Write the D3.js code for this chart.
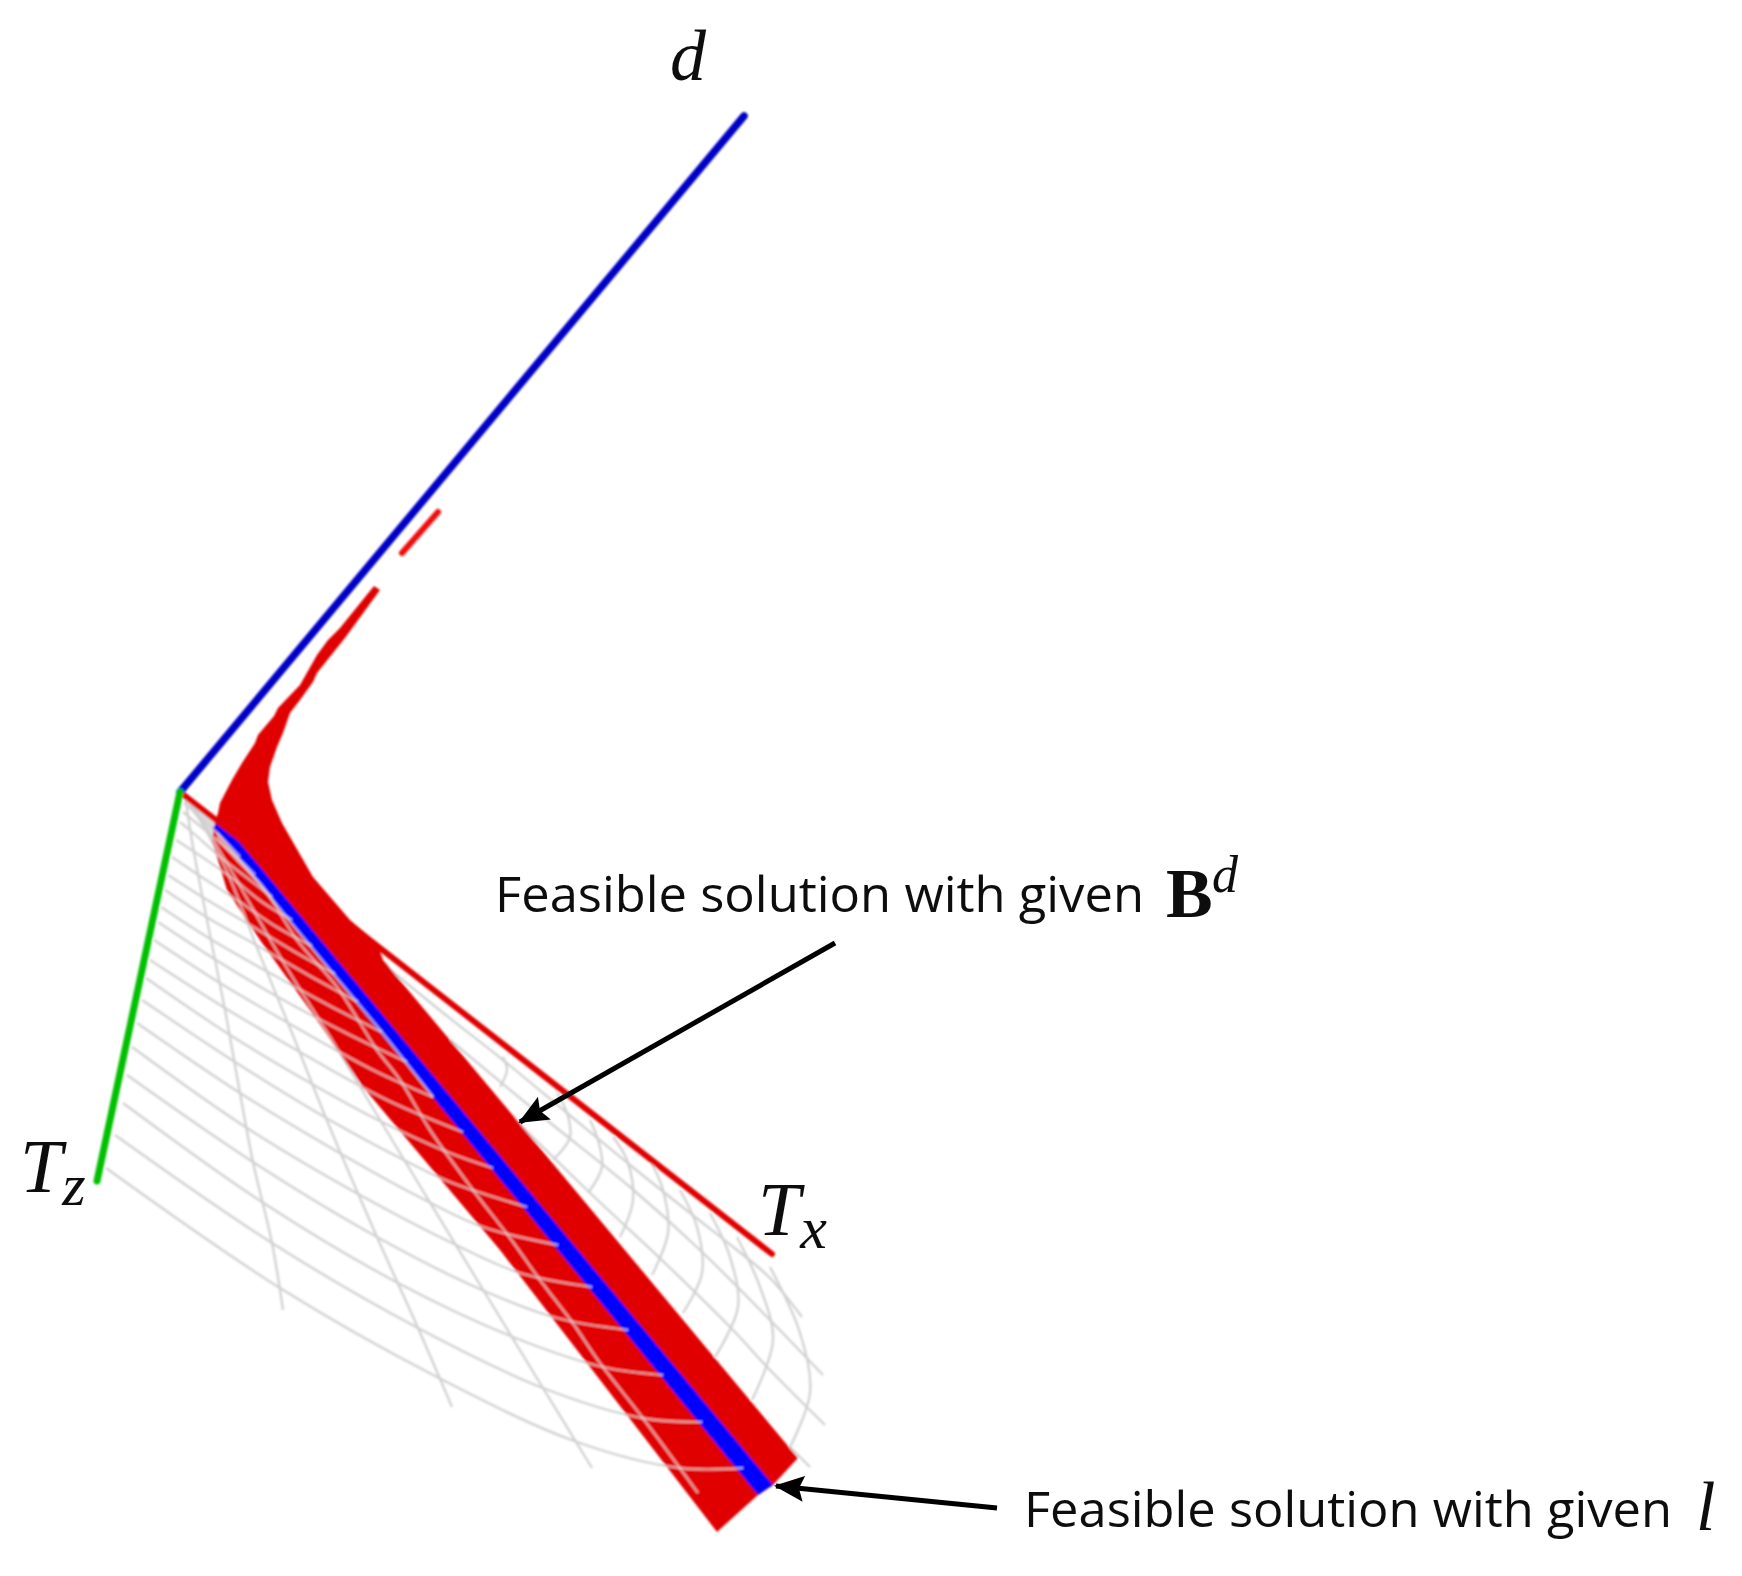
<!DOCTYPE html>
<html>
<head>
<meta charset="utf-8">
<title>Feasible solutions</title>
<script src="https://cdn.jsdelivr.net/npm/d3@7"></script>
<style>
  html, body { margin: 0; padding: 0; background: #fff; }
  svg { display: block; }
</style>
</head>
<body>
<div id="chart"></div>
<script>
// All values are [x, y], in picture units
var axisD = [[180, 792], [744, 116]];
var axisTz = [[180, 792], [97, 1181]];
var axisTx = [[180, 792], [772, 1254]];
var redDashA = [[402, 553], [438, 512]];

var redBand = [[218, 813], [220, 803], [232, 780], [242, 763], [255, 743], [258, 735], [274, 716], [278, 708],
  [300, 685], [317, 655], [328, 640], [340, 628], [374, 586], [380, 590], [345, 638], [317, 673], [313, 682],
  [300, 700], [290, 713], [283, 733], [277, 747], [270, 767], [268, 782], [272, 800], [282, 823], [290, 837],
  [313, 877], [350, 920], [377, 943], [383, 960], [500, 1100], [798, 1458], [773, 1485], [758, 1495], [717, 1532],
  [500, 1250], [363, 1087], [310, 1010], [260, 940], [227, 890], [212, 840], [215, 822]];
var blueBand = [[213, 828], [220, 819], [773, 1485], [758, 1495]];
var greyWedge = [[183, 795], [215, 822], [212, 837], [193, 813]];

// lines leaving the Tz axis and running to the blue band
var tzLines = [
  [[106, 1168], [280, 1288], [437, 1377], [577, 1442], [680, 1468], [743, 1468]],
  [[115, 1135], [272, 1243], [418, 1328], [543, 1388], [642, 1418], [702, 1422]],
  [[123, 1103], [262, 1202], [398, 1283], [513, 1337], [603, 1367], [663, 1375]],
  [[127, 1075], [253, 1162], [377, 1237], [482, 1290], [557, 1318], [628, 1330]],
  [[132, 1047], [247, 1128], [360, 1195], [452, 1243], [520, 1273], [592, 1287]],
  [[137, 1023], [240, 1093], [343, 1155], [425, 1200], [483, 1227], [558, 1245]],
  [[142, 1000], [235, 1062], [328, 1119], [400, 1158], [450, 1182], [527, 1207]],
  [[146, 978], [230, 1035], [312, 1084], [378, 1120], [450, 1153], [493, 1168]],
  [[150, 960], [225, 1008], [300, 1052], [387, 1100], [463, 1132]],
  [[154, 940], [220, 983], [290, 1024], [373, 1070], [433, 1097]],
  [[158, 922], [216, 960], [278, 997], [350, 1035], [407, 1062]],
  [[161, 907], [212, 940], [268, 972], [330, 1006], [382, 1032]],
  [[165, 890], [208, 918], [258, 946], [310, 976], [358, 1002]],
  [[168, 875], [204, 898], [250, 925], [295, 952], [335, 974]],
  [[172, 857], [200, 876], [240, 902], [275, 926], [312, 946]],
  [[176, 840], [196, 853], [232, 878], [262, 902], [292, 920]],
  [[180, 822], [192, 832], [224, 860], [250, 880], [272, 897]],
  [[183, 812], [212, 836], [240, 860], [255, 875]],
  [[184, 803], [212, 828], [240, 857]]
];

// lines fanning out from the origin
var fanLines = [
  [[185, 795], [193, 847], [207, 920], [225, 1010], [240, 1093], [253, 1162], [272, 1243], [283, 1310]],
  [[188, 800], [224, 865], [258, 950], [290, 1028], [328, 1123], [377, 1237], [418, 1328], [452, 1407]],
  [[190, 800], [232, 872], [282, 960], [335, 1045], [400, 1153], [482, 1288], [543, 1388], [592, 1468]],
  [[217, 837], [237, 860], [263, 887], [297, 940], [337, 987], [377, 1050], [400, 1080], [430, 1130], [473, 1190],
    [510, 1238], [540, 1280], [572, 1322], [600, 1363], [642, 1417], [698, 1493]],
  [[217, 833], [270, 897], [330, 970], [380, 1030], [433, 1097]]
];

// lines running along Tx on the far side of the band
var txLines = [
  [[387, 967], [442, 1012], [503, 1060], [567, 1113], [630, 1165], [690, 1213], [737, 1250], [770, 1278], [802, 1317]],
  [[450, 1040], [543, 1117], [630, 1187], [700, 1250], [770, 1320], [823, 1375]],
  [[500, 1105], [587, 1190], [667, 1265], [733, 1330], [770, 1370], [825, 1425]],
  [[790, 1447], [810, 1467]]
];

// arcs leaving the band and bending up towards Tx
var arcLines = [
  [[500, 1087], [507, 1070], [503, 1057]],
  [[553, 1160], [570, 1137], [567, 1113], [557, 1093]],
  [[588, 1193], [602, 1167], [598, 1140], [590, 1120]],
  [[620, 1237], [633, 1200], [627, 1160], [613, 1137]],
  [[652, 1275], [668, 1233], [663, 1190], [650, 1160]],
  [[683, 1313], [702, 1273], [697, 1227], [680, 1190]],
  [[715, 1357], [738, 1307], [730, 1257], [710, 1213]],
  [[752, 1400], [773, 1340], [760, 1287], [737, 1237]],
  [[790, 1447], [810, 1393], [800, 1333], [770, 1267]]
];

var arrowBd = [[835, 943], [520, 1122]];
var arrowL = [[997, 1508], [776, 1486]];

var width = 1742, height = 1576;

var x = d3.scaleLinear().domain([0, 1742]).range([0, width]);
var y = d3.scaleLinear().domain([0, 1576]).range([0, height]);

var curved = d3.line()
  .x(function(d) { return x(d[0]); })
  .y(function(d) { return y(d[1]); })
  .curve(d3.curveCatmullRom.alpha(0.5));

var straight = d3.line()
  .x(function(d) { return x(d[0]); })
  .y(function(d) { return y(d[1]); });

var svg = d3.select("#chart").append("svg")
  .attr("width", width)
  .attr("height", height)
  .style("background", "#fff");

var defs = svg.append("defs");

var soft = defs.append("filter").attr("id", "soft");
soft.append("feGaussianBlur").attr("stdDeviation", 0.9);

var softText = defs.append("filter").attr("id", "soft-text");
softText.append("feGaussianBlur").attr("stdDeviation", 0.6);

defs.append("clipPath").attr("id", "on-band")
  .append("path")
  .attr("d", straight(redBand) + "Z");

defs.append("marker")
  .attr("id", "head")
  .attr("markerUnits", "userSpaceOnUse")
  .attr("viewBox", "0 0 30 26")
  .attr("refX", 28)
  .attr("refY", 13)
  .attr("markerWidth", 30)
  .attr("markerHeight", 26)
  .attr("orient", "auto")
  .append("path")
  .attr("d", "M0,0L30,13L0,26L5,13Z")
  .attr("fill", "#000");

var g = svg.append("g").attr("filter", "url(#soft)");

// Grey mesh
g.append("path")
  .attr("d", straight(greyWedge) + "Z")
  .attr("fill", "#dcdcdc");

var mesh = [].concat(tzLines, fanLines, txLines, arcLines);

g.selectAll(".mesh")
  .data(mesh)
  .enter().append("path")
  .attr("class", "mesh")
  .attr("d", curved)
  .attr("fill", "none")
  .attr("stroke", "#d0d0d0")
  .attr("stroke-width", 2.3);

// Solution bands
g.append("path")
  .attr("d", straight(redBand) + "Z")
  .attr("fill", "#e00000");

g.append("path")
  .attr("d", straight(blueBand) + "Z")
  .attr("fill", "#0000ff");

// The mesh stays visible on top of the bands, in a paler tone
g.append("g")
  .attr("clip-path", "url(#on-band)")
  .selectAll(".mesh-over")
  .data([].concat(tzLines, fanLines))
  .enter().append("path")
  .attr("class", "mesh-over")
  .attr("d", curved)
  .attr("fill", "none")
  .attr("stroke", "#ead8d8")
  .attr("stroke-opacity", 0.72)
  .attr("stroke-width", 2.3);

// Axes
g.append("path")
  .attr("d", straight(axisTx))
  .attr("fill", "none")
  .attr("stroke", "#e00000")
  .attr("stroke-width", 6)
  .attr("stroke-linecap", "round");

g.append("path")
  .attr("d", straight(redDashA))
  .attr("fill", "none")
  .attr("stroke", "#f01010")
  .attr("stroke-width", 6)
  .attr("stroke-linecap", "round");

g.append("path")
  .attr("d", straight(axisD))
  .attr("fill", "none")
  .attr("stroke", "#0000c8")
  .attr("stroke-width", 7.5)
  .attr("stroke-linecap", "round");

g.append("path")
  .attr("d", straight(axisTz))
  .attr("fill", "none")
  .attr("stroke", "#00c000")
  .attr("stroke-width", 7)
  .attr("stroke-linecap", "round");

// Arrows
svg.selectAll(".arrow")
  .data([arrowBd, arrowL])
  .enter().append("path")
  .attr("class", "arrow")
  .attr("d", straight)
  .attr("fill", "none")
  .attr("stroke", "#000")
  .attr("stroke-width", 5)
  .attr("marker-end", "url(#head)");

// Labels
var labels = svg.append("g").attr("filter", "url(#soft-text)");

function mathText(px, py, size, str, bold) {
  return labels.append("text")
    .attr("x", px)
    .attr("y", py)
    .attr("font-family", "'Liberation Serif', 'DejaVu Serif', serif")
    .attr("font-style", bold ? "normal" : "italic")
    .attr("font-weight", bold ? "bold" : "normal")
    .attr("font-size", size)
    .attr("fill", "#111")
    .text(str);
}

function subscript(label, drop, size, str) {
  label.append("tspan")
    .attr("dy", drop)
    .attr("font-size", size)
    .text(str);
}

function plainText(px, py, len, str) {
  labels.append("text")
    .attr("x", px)
    .attr("y", py)
    .attr("font-family", "'Open Sans', sans-serif")
    .attr("font-size", 50)
    .attr("textLength", len)
    .attr("lengthAdjust", "spacingAndGlyphs")
    .attr("fill", "#111")
    .text(str);
}

mathText(670, 80, 72, "d");
subscript(mathText(20, 1192, 76, "T"), 13, 60, "z");
subscript(mathText(758, 1235, 76, "T"), 13, 60, "x");

plainText(495, 912, 649, "Feasible solution with given");
mathText(1166, 917, 70, "B", true);
mathText(1212, 892, 52, "d");

plainText(1024, 1527, 648, "Feasible solution with given");
mathText(1696, 1530, 70, "l");
</script>
</body>
</html>
